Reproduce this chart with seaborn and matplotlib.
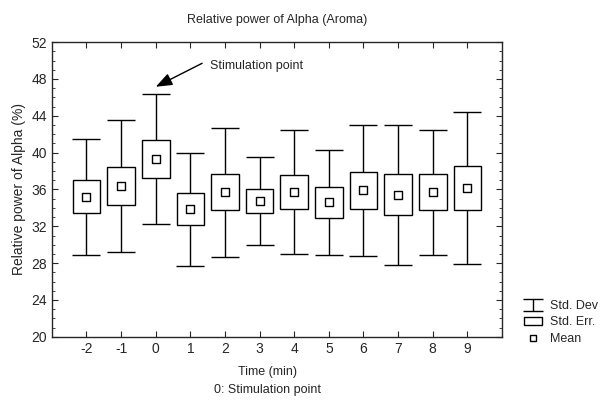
import numpy as np
import pandas as pd
import matplotlib
matplotlib.use('Agg')
import matplotlib.pyplot as plt
from matplotlib.patches import Rectangle
from matplotlib.lines import Line2D
import seaborn as sns

# valores
tempo = [-2, -1, 0, 1, 2, 3, 4, 5, 6, 7, 8, 9]
media = [35.2, 36.4, 39.3, 33.85, 35.7, 34.75, 35.75, 34.6, 35.9, 35.45, 35.7, 36.15]
erro_padrao = [1.8, 2.05, 2.05, 1.75, 1.95, 1.35, 1.85, 1.65, 2.05, 2.25, 1.95, 2.4]
desvio_padrao = [6.3, 7.15, 7.1, 6.15, 7.0, 4.8, 6.75, 5.7, 7.1, 7.6, 6.8, 8.25]

df = pd.DataFrame({'tempo': tempo, 'media': media, 'se': erro_padrao, 'sd': desvio_padrao})

sns.set_style('ticks')
plt.rcParams['font.family'] = ['Liberation Sans', 'DejaVu Sans']
plt.rcParams['axes.unicode_minus'] = False

fig = plt.figure(figsize=(6.03, 4.01), dpi=100)
ax = fig.add_axes([0.086, 0.16, 0.7465, 0.735])

# desvio padrão (barras com traço)
ax.errorbar(df['tempo'], df['media'], yerr=df['sd'], fmt='none', ecolor='black',
            elinewidth=1.0, capsize=10, capthick=1.0, zorder=1)
# erro padrão (caixas)
ax.bar(df['tempo'], 2 * df['se'], bottom=df['media'] - df['se'], width=0.8,
       color='white', edgecolor='black', linewidth=1.0, zorder=2)
# média
sns.scatterplot(data=df, x='tempo', y='media', marker='s', s=30, color='white',
                edgecolor='black', linewidth=1.0, ax=ax, zorder=3, legend=False)

ax.set_xlim(-3, 10)
ax.set_ylim(20, 52)
ax.set_xticks(tempo)
ax.set_yticks(range(20, 53, 4))
ax.set_yticks(range(20, 53, 1), minor=True)
ax.tick_params(direction='in', top=True, right=True, labelsize=10, length=4, width=0.8)
ax.tick_params(which='minor', direction='in', left=True, right=True, length=2, width=0.6)
for s in ax.spines.values():
    s.set_linewidth(1.0)

ax.set_title('Relative power of Alpha (Aroma)', fontsize=9, pad=14)
ax.set_ylabel('Relative power of Alpha (%)', fontsize=10, labelpad=4)
ax.set_xlabel('Time (min)', fontsize=9)
ax.xaxis.set_label_coords(0.48, -0.119)
ax.xaxis.label.set_va('center')
fig.text(0.444, 0.027, '0: Stimulation point', fontsize=9, ha='center', va='center')

# seta do ponto de estímulo
ax.text(1.56, 49.4, 'Stimulation point', fontsize=9, va='center', ha='left')
ax.annotate('', xy=(0, 47.15), xytext=(1.34, 49.7),
            arrowprops=dict(arrowstyle='-|>,head_length=1.0,head_width=0.38',
                            color='black', lw=1.0, shrinkA=0, shrinkB=0))

# legenda
h_sd = ax.errorbar([-100], [0], yerr=[1], fmt='none', ecolor='black', elinewidth=1.0,
                   capsize=7, capthick=1.0)
h_se = Rectangle((0, 0), 1, 1, facecolor='white', edgecolor='black', linewidth=1.0)
h_mean = Line2D([], [], marker='s', linestyle='none', markersize=5,
                markerfacecolor='white', markeredgecolor='black')
fig.legend([h_sd, h_se, h_mean], ['Std. Dev', 'Std. Err.', 'Mean'],
           loc='lower left', bbox_to_anchor=(0.86, 0.128), frameon=False,
           fontsize=9, handlelength=1.5, handleheight=0.55, handletextpad=0.6,
           labelspacing=0.35, borderaxespad=0)

fig.savefig('out.png', dpi=100)
